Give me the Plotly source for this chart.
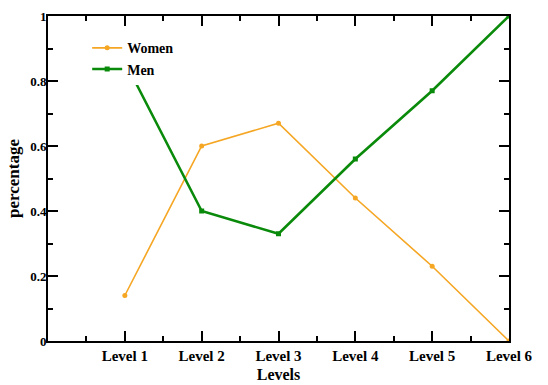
import plotly.graph_objects as go

levels = ["Level 1", "Level 2", "Level 3", "Level 4", "Level 5", "Level 6"]
positions = [1, 2, 3, 4, 5, 6]
women = [0.14, 0.60, 0.67, 0.44, 0.23, 0.00]
men = [0.86, 0.40, 0.33, 0.56, 0.77, 1.00]

FONT = "Liberation Serif"

fig = go.Figure()
fig.add_trace(go.Scatter(
    x=positions, y=women, name="Women", mode="lines+markers",
    line=dict(color="#F5A623", width=1.6),
    marker=dict(symbol="circle", size=5, color="#F5A623"),
))
fig.add_trace(go.Scatter(
    x=positions, y=men, name="Men", mode="lines+markers",
    line=dict(color="#0A8A0A", width=2.6),
    marker=dict(symbol="square", size=5, color="#0A8A0A"),
))

axis_common = dict(
    showline=True, linecolor="black", linewidth=2, mirror="ticks",
    ticks="inside", ticklen=10, tickwidth=2, tickcolor="black",
    showgrid=False, zeroline=False, automargin=False,
)

fig.update_xaxes(
    range=[0, 6], tickmode="array", tickvals=positions, ticktext=levels,
    tickfont=dict(family=FONT, size=15, color="black", weight="bold"),
    ticklabelstandoff=0,
    title=dict(text="Levels", font=dict(family=FONT, size=16, color="black", weight="bold"), standoff=6),
    minor=dict(ticks="inside", ticklen=5, tickwidth=2, tickcolor="black", tick0=0, dtick=0.5),
    **axis_common,
)
fig.update_yaxes(
    range=[0, 1], tickmode="linear", tick0=0, dtick=0.2,
    tickformat="~g",
    tickfont=dict(family=FONT, size=13, color="black", weight="bold"),
    ticklabelstandoff=-3,
    title=dict(text="percentage", font=dict(family=FONT, size=17, color="black", weight="bold"), standoff=6),
    minor=dict(ticks="inside", ticklen=5, tickwidth=2, tickcolor="black", tick0=0, dtick=0.1),
    **axis_common,
)

fig.update_layout(
    width=548, height=385,
    margin=dict(l=48, r=39, t=16, b=44),
    paper_bgcolor="white", plot_bgcolor="white",
    showlegend=True,
    legend=dict(
        x=0.085, y=0.95, xanchor="left", yanchor="top",
        bgcolor="white", borderwidth=0,
        font=dict(family=FONT, size=14, color="black", weight="bold"),
        tracegroupgap=0, itemwidth=30,
    ),
)

fig.write_html(
    "out.html",
    config={"displayModeBar": False},
    post_script="document.body.style.margin='0';document.body.style.overflow='hidden';",
)
